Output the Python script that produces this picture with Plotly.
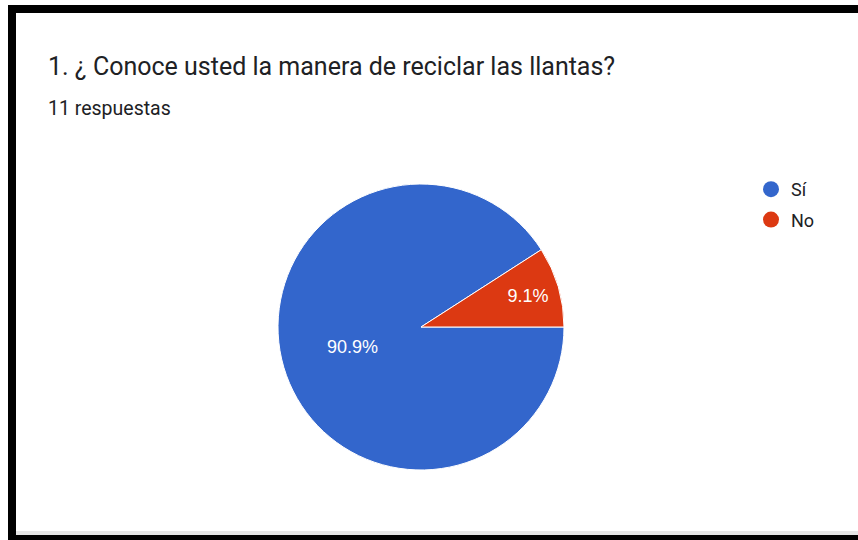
import plotly.graph_objects as go

labels = ["Sí", "No"]
values = [10, 1]
colors = ["#3366cc", "#dc3912"]
title_text = "1. ¿ Conoce usted la manera de reciclar las llantas?"
subtitle_text = "11 respuestas"

W, H = 858, 540

fig = go.Figure()

cx, cy, r = 421, 327, 143
fig.add_trace(go.Pie(
    labels=labels, values=values, sort=False, direction="clockwise", rotation=90,
    marker=dict(colors=colors, line=dict(color="white", width=1)),
    texttemplate="%{percent:.1%}", textposition="inside",
    insidetextorientation="horizontal",
    textfont=dict(color="white", size=18, family="Arial"),
    showlegend=False, hoverinfo="label+percent",
    domain=dict(x=[(cx - r) / W, (cx + r) / W], y=[(H - cy - r) / H, (H - cy + r) / H]),
))

for lab, col in zip(labels, colors):
    fig.add_trace(go.Scatter(
        x=[None], y=[None], mode="markers", name=lab, legendgroup=lab,
        marker=dict(color=col, size=16, symbol="circle"),
        showlegend=True,
    ))

shapes = [
    dict(type="rect", xref="paper", yref="paper", x0=8 / W, x1=1, y0=1 - 13 / H, y1=1 - 5 / H,
         fillcolor="black", line=dict(width=0), layer="above"),
    dict(type="rect", xref="paper", yref="paper", x0=8 / W, x1=16 / W, y0=0, y1=1 - 5 / H,
         fillcolor="black", line=dict(width=0), layer="above"),
    dict(type="rect", xref="paper", yref="paper", x0=16 / W, x1=1, y0=(540 - 535) / H, y1=(540 - 531) / H,
         fillcolor="#e6e6e6", line=dict(width=0), layer="below"),
    dict(type="rect", xref="paper", yref="paper", x0=8 / W, x1=1, y0=0, y1=(540 - 535) / H,
         fillcolor="black", line=dict(width=0), layer="above"),
]

annotations = [
    dict(text=title_text, xref="paper", yref="paper", x=46 / W, y=(H - 66) / H,
         xanchor="left", yanchor="middle", showarrow=False,
         font=dict(family="Roboto, Arial", size=25, color="#202124")),
    dict(text=subtitle_text, xref="paper", yref="paper", x=46 / W, y=(H - 109) / H,
         xanchor="left", yanchor="middle", showarrow=False,
         font=dict(family="Roboto, Arial", size=19.5, color="#202124")),
]

fig.update_layout(
    width=W, height=H, margin=dict(l=0, r=0, t=0, b=0),
    paper_bgcolor="white", plot_bgcolor="white",
    xaxis=dict(visible=False), yaxis=dict(visible=False),
    shapes=shapes, annotations=annotations,
    legend=dict(x=751 / W, y=(H - 171) / H, xanchor="left", yanchor="top",
                font=dict(family="Roboto, Arial", size=18, color="#202124"),
                bgcolor="rgba(0,0,0,0)", tracegroupgap=4),
)

fig.write_html("out.html", config={"displayModeBar": False},
               post_script="document.body.style.margin='0';document.body.style.overflow='hidden';")
